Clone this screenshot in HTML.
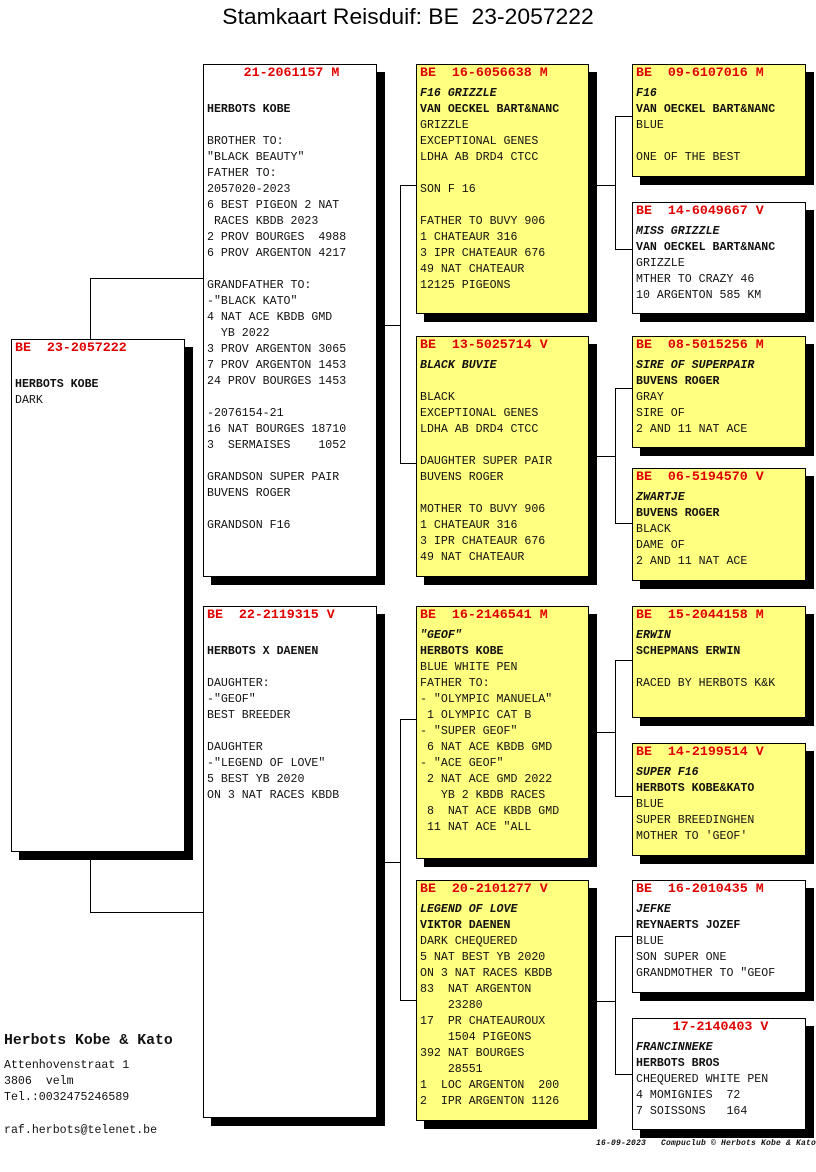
<!DOCTYPE html>
<html><head><meta charset="utf-8"><style>
body{margin:0;width:816px;height:1172px;background:#fff;position:relative;overflow:hidden;font-family:"Liberation Mono",monospace;}
.t{position:absolute;left:0;width:816px;top:4px;text-align:center;font:22px "Liberation Sans",sans-serif;color:#000;transform:scaleX(1.04);}
.b{position:absolute;border:1px solid #000;background:#fff;box-shadow:8px 8px 0 #000;box-sizing:border-box;padding:0 0 0 3px;font-size:11.6px;color:#111;}
.y{background:#ffff80;}
.h{color:#e00000;font-weight:bold;font-size:13.3px;line-height:16px;margin-bottom:5px;white-space:pre;}
.c{text-align:center;}
pre{margin:0;font:inherit;line-height:16px;}
i{font-style:italic;font-weight:bold;}
.k{font-weight:bold;}
.l{position:absolute;background:#000;}
.f{position:absolute;font-size:11.6px;line-height:16px;white-space:pre;color:#111;}
</style></head><body>
<div class="t">Stamkaart Reisduif: BE&nbsp; 23-2057222</div>

<div class="l" style="left:90px;top:278px;width:1px;height:61px"></div>
<div class="l" style="left:90px;top:278px;width:113px;height:1px"></div>
<div class="l" style="left:90px;top:851px;width:1px;height:61px"></div>
<div class="l" style="left:90px;top:912px;width:113px;height:1px"></div>

<div class="l" style="left:376px;top:325px;width:24px;height:1px"></div>
<div class="l" style="left:400px;top:185px;width:1px;height:278px"></div>
<div class="l" style="left:400px;top:185px;width:16px;height:1px"></div>
<div class="l" style="left:400px;top:463px;width:16px;height:1px"></div>

<div class="l" style="left:376px;top:862px;width:24px;height:1px"></div>
<div class="l" style="left:400px;top:719px;width:1px;height:281px"></div>
<div class="l" style="left:400px;top:719px;width:16px;height:1px"></div>
<div class="l" style="left:400px;top:1000px;width:16px;height:1px"></div>

<div class="l" style="left:588px;top:185px;width:27px;height:1px"></div>
<div class="l" style="left:615px;top:116px;width:1px;height:133px"></div>
<div class="l" style="left:615px;top:116px;width:17px;height:1px"></div>
<div class="l" style="left:615px;top:249px;width:17px;height:1px"></div>

<div class="l" style="left:588px;top:456px;width:27px;height:1px"></div>
<div class="l" style="left:615px;top:388px;width:1px;height:135px"></div>
<div class="l" style="left:615px;top:388px;width:17px;height:1px"></div>
<div class="l" style="left:615px;top:523px;width:17px;height:1px"></div>

<div class="l" style="left:588px;top:732px;width:27px;height:1px"></div>
<div class="l" style="left:615px;top:660px;width:1px;height:136px"></div>
<div class="l" style="left:615px;top:660px;width:17px;height:1px"></div>
<div class="l" style="left:615px;top:796px;width:17px;height:1px"></div>

<div class="l" style="left:588px;top:1001px;width:27px;height:1px"></div>
<div class="l" style="left:615px;top:936px;width:1px;height:138px"></div>
<div class="l" style="left:615px;top:936px;width:17px;height:1px"></div>
<div class="l" style="left:615px;top:1074px;width:17px;height:1px"></div>

<div class="b" style="left:11px;top:339px;width:174px;height:513px">
<div class="h">BE  23-2057222</div><pre>

<span class="k">HERBOTS KOBE</span>
DARK</pre></div>

<div class="b" style="left:203px;top:64px;width:174px;height:513px">
<div class="h c">21-2061157 M</div><pre>

<span class="k">HERBOTS KOBE</span>

BROTHER TO:
"BLACK BEAUTY"
FATHER TO:
2057020-2023
6 BEST PIGEON 2 NAT
 RACES KBDB 2023
2 PROV BOURGES  4988
6 PROV ARGENTON 4217

GRANDFATHER TO:
-"BLACK KATO"
4 NAT ACE KBDB GMD
  YB 2022
3 PROV ARGENTON 3065
7 PROV ARGENTON 1453
24 PROV BOURGES 1453

-2076154-21
16 NAT BOURGES 18710
3  SERMAISES    1052

GRANDSON SUPER PAIR
BUVENS ROGER

GRANDSON F16</pre></div>

<div class="b" style="left:203px;top:606px;width:174px;height:512px">
<div class="h">BE  22-2119315 V</div><pre>

<span class="k">HERBOTS X DAENEN</span>

DAUGHTER:
-"GEOF"
BEST BREEDER

DAUGHTER
-"LEGEND OF LOVE"
5 BEST YB 2020
ON 3 NAT RACES KBDB</pre></div>

<div class="b y" style="left:416px;top:64px;width:173px;height:250px">
<div class="h">BE  16-6056638 M</div><pre><i>F16 GRIZZLE</i>
<span class="k">VAN OECKEL BART&amp;NANC</span>
GRIZZLE
EXCEPTIONAL GENES
LDHA AB DRD4 CTCC

SON F 16

FATHER TO BUVY 906
1 CHATEAUR 316
3 IPR CHATEAUR 676
49 NAT CHATEAUR
12125 PIGEONS</pre></div>

<div class="b y" style="left:416px;top:336px;width:173px;height:241px">
<div class="h">BE  13-5025714 V</div><pre><i>BLACK BUVIE</i>

BLACK
EXCEPTIONAL GENES
LDHA AB DRD4 CTCC

DAUGHTER SUPER PAIR
BUVENS ROGER

MOTHER TO BUVY 906
1 CHATEAUR 316
3 IPR CHATEAUR 676
49 NAT CHATEAUR</pre></div>

<div class="b y" style="left:416px;top:606px;width:173px;height:253px">
<div class="h">BE  16-2146541 M</div><pre><i>"GEOF"</i>
<span class="k">HERBOTS KOBE</span>
BLUE WHITE PEN
FATHER TO:
- "OLYMPIC MANUELA"
 1 OLYMPIC CAT B
- "SUPER GEOF"
 6 NAT ACE KBDB GMD
- "ACE GEOF"
 2 NAT ACE GMD 2022
   YB 2 KBDB RACES
 8  NAT ACE KBDB GMD
 11 NAT ACE "ALL</pre></div>

<div class="b y" style="left:416px;top:880px;width:173px;height:241px">
<div class="h">BE  20-2101277 V</div><pre><i>LEGEND OF LOVE</i>
<span class="k">VIKTOR DAENEN</span>
DARK CHEQUERED
5 NAT BEST YB 2020
ON 3 NAT RACES KBDB
83  NAT ARGENTON
    23280
17  PR CHATEAUROUX
    1504 PIGEONS
392 NAT BOURGES
    28551
1  LOC ARGENTON  200
2  IPR ARGENTON 1126</pre></div>

<div class="b y" style="left:632px;top:64px;width:174px;height:113px">
<div class="h">BE  09-6107016 M</div><pre><i>F16</i>
<span class="k">VAN OECKEL BART&amp;NANC</span>
BLUE

ONE OF THE BEST</pre></div>

<div class="b" style="left:632px;top:202px;width:174px;height:112px">
<div class="h">BE  14-6049667 V</div><pre><i>MISS GRIZZLE</i>
<span class="k">VAN OECKEL BART&amp;NANC</span>
GRIZZLE
MTHER TO CRAZY 46
10 ARGENTON 585 KM</pre></div>

<div class="b y" style="left:632px;top:336px;width:174px;height:112px">
<div class="h">BE  08-5015256 M</div><pre><i>SIRE OF SUPERPAIR</i>
<span class="k">BUVENS ROGER</span>
GRAY
SIRE OF
2 AND 11 NAT ACE</pre></div>

<div class="b y" style="left:632px;top:468px;width:174px;height:113px">
<div class="h">BE  06-5194570 V</div><pre><i>ZWARTJE</i>
<span class="k">BUVENS ROGER</span>
BLACK
DAME OF
2 AND 11 NAT ACE</pre></div>

<div class="b y" style="left:632px;top:606px;width:174px;height:112px">
<div class="h">BE  15-2044158 M</div><pre><i>ERWIN</i>
<span class="k">SCHEPMANS ERWIN</span>

RACED BY HERBOTS K&amp;K</pre></div>

<div class="b y" style="left:632px;top:743px;width:174px;height:113px">
<div class="h">BE  14-2199514 V</div><pre><i>SUPER F16</i>
<span class="k">HERBOTS KOBE&amp;KATO</span>
BLUE
SUPER BREEDINGHEN
MOTHER TO 'GEOF'</pre></div>

<div class="b" style="left:632px;top:880px;width:174px;height:113px">
<div class="h">BE  16-2010435 M</div><pre><i>JEFKE</i>
<span class="k">REYNAERTS JOZEF</span>
BLUE
SON SUPER ONE
GRANDMOTHER TO "GEOF</pre></div>

<div class="b" style="left:632px;top:1018px;width:174px;height:112px">
<div class="h c">17-2140403 V</div><pre><i>FRANCINNEKE</i>
<span class="k">HERBOTS BROS</span>
CHEQUERED WHITE PEN
4 MOMIGNIES  72
7 SOISSONS   164</pre></div>

<div class="f" style="left:4px;top:1033px;font-size:14.8px;font-weight:bold">Herbots Kobe &amp; Kato</div>
<div class="f" style="left:4px;top:1058px">Attenhovenstraat 1
3806  velm
Tel.:0032475246589</div>
<div class="f" style="left:4px;top:1123px">raf.herbots@telenet.be</div>
<div class="f" style="left:596px;top:1138px;font-size:8px;font-style:italic;font-weight:bold;line-height:12px;letter-spacing:0.2px">16-09-2023   Compuclub © Herbots Kobe &amp; Kato</div>
</body></html>
